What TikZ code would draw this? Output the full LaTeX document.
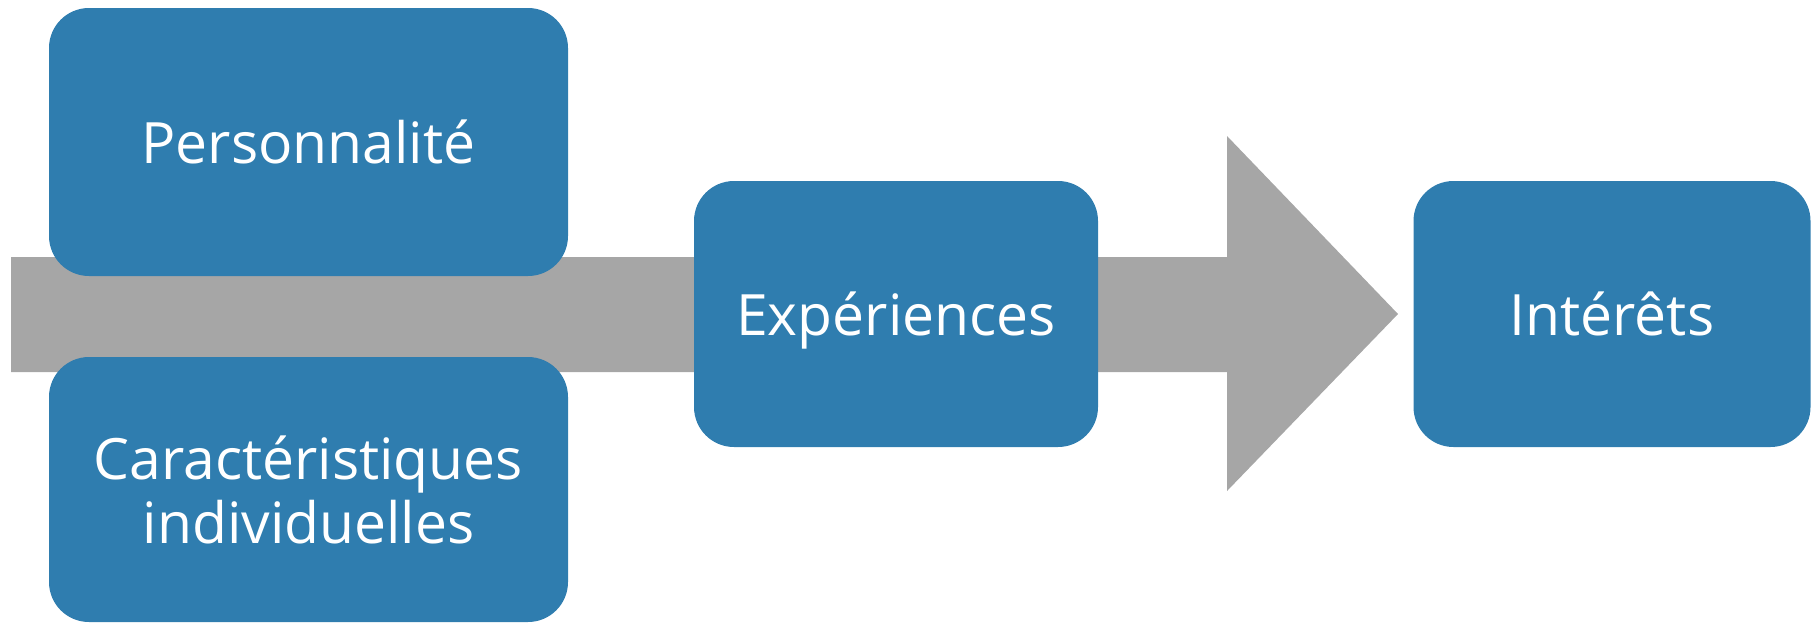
\documentclass[tikz,border=0pt]{standalone}
\usepackage{fontspec}
\setmainfont{Open Sans}
\definecolor{boxblue}{HTML}{2F7DAF}
\definecolor{arrowgray}{HTML}{A6A6A6}
\begin{document}
\begin{tikzpicture}[x=1pt,y=-1pt,
  card/.style={fill=boxblue, draw=none, rounded corners=40pt, inner sep=0pt,
    text=white, align=center, font=\fontsize{57}{64}\selectfont},
  oneline/.style={text height=42pt, text depth=0pt},
]
\useasboundingbox (0,0) rectangle (1811,624);
% big gray arrow
\fill[arrowgray] (11,257) -- (1227,257) -- (1227,136) -- (1398,314) -- (1227,491) -- (1227,372) -- (11,372) -- cycle;
\node[card, oneline, minimum width=519pt, minimum height=268pt] (pers) at (308.5,142) {Personnalité};
\node[card, minimum width=519pt, minimum height=265pt] (carac) at (308.5,489.5) {Caractéristiques\\individuelles};
\node[card, oneline, minimum width=404pt, minimum height=266pt] (exp) at (896,314) {Expériences};
\node[card, oneline, minimum width=397pt, minimum height=266pt] (int) at (1612,314) {Intérêts};
\end{tikzpicture}
\end{document}
